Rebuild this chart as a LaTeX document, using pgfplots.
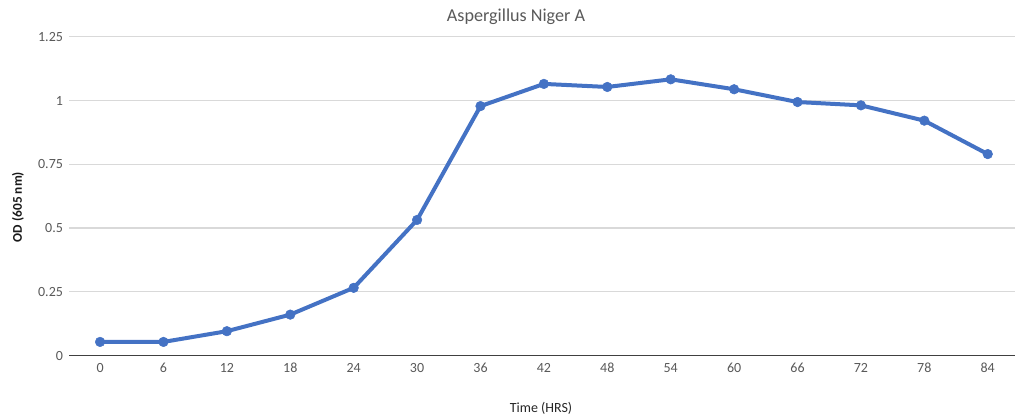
\documentclass[border=0pt]{standalone}
\usepackage{pgfplots}
\pgfplotsset{compat=1.18}
\usepackage{fontspec}
\setmainfont{Carlito}

\definecolor{lineblue}{RGB}{68,114,196}
\definecolor{gridgray}{RGB}{217,217,217}
\definecolor{textgray}{RGB}{89,89,89}
\definecolor{axisdark}{RGB}{64,64,64}

% one screen pixel
\newlength{\px}
\setlength{\px}{0.75pt}

\begin{document}
\begin{tikzpicture}[x=\px,y=\px]
\begin{axis}[
  at={(69\px,62.3\px)}, anchor=south west,
  scale only axis,
  width=946\px, height=319\px,
  xmin=-0.49, xmax=14.43,
  ymin=0, ymax=1.25,
  xtick={0,...,14},
  xticklabels={0,6,12,18,24,30,36,42,48,54,60,66,72,78,84},
  ytick={0,0.25,0.5,0.75,1,1.25},
  yticklabels={0,0.25,0.5,0.75,1,1.25},
  ymajorgrids,
  grid style={gridgray, line width=0.9pt},
  axis x line*=bottom,
  axis y line*=left,
  y axis line style={draw=none},
  x axis line style={axisdark, line width=0.9pt, -},
  major tick length=0pt,
  tick label style={font=\fontsize{10.5}{12}\selectfont, text=textgray},
  xticklabel style={yshift=-2pt},
  yticklabel style={xshift=-1pt},
  clip=false,
]
\addplot[lineblue, line width=3pt, line join=round,
  mark=*, mark size=3.6pt, mark options={solid, fill=lineblue, draw=lineblue, line width=0.4pt}]
  coordinates {
  (0,0.054) (1,0.054) (2,0.096) (3,0.161) (4,0.266) (5,0.532) (6,0.978)
  (7,1.065) (8,1.053) (9,1.083) (10,1.044) (11,0.994) (12,0.981) (13,0.921) (14,0.790)
  };
\end{axis}
\node[text=textgray, font=\fontsize{13.6}{16}\selectfont] at (516,401) {Aspergillus Niger A};
\node[text=black!90, font=\fontsize{10}{12}\selectfont\bfseries, rotate=90] at (18,211) {OD (605 nm)};
\node[text=black!85, font=\fontsize{10.5}{12}\selectfont] at (541,10) {Time (HRS)};
\pgfresetboundingbox
\useasboundingbox (0,0) rectangle (1015,418);
\end{tikzpicture}
\end{document}
